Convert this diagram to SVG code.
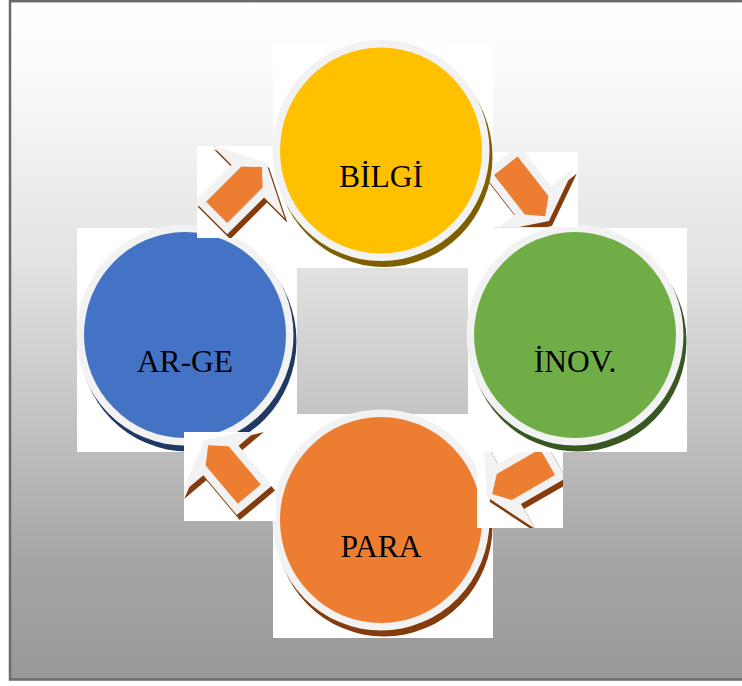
<svg xmlns="http://www.w3.org/2000/svg" width="742" height="686" viewBox="0 0 742 686">
<defs>
<linearGradient id="bg" x1="0" y1="0" x2="0" y2="1">
<stop offset="0" stop-color="#ffffff"/>
<stop offset="0.1" stop-color="#fbfbfb"/>
<stop offset="0.39" stop-color="#e2e2e2"/>
<stop offset="0.61" stop-color="#c4c4c4"/>
<stop offset="0.82" stop-color="#a6a6a6"/>
<stop offset="1" stop-color="#989898"/>
</linearGradient>
<style>
.lbl{font-family:"Liberation Serif","Times New Roman",serif;font-size:31.5px;fill:#000;text-anchor:middle}
.back{fill:#ffffff}
.ring{fill:#f2f2f2}
.ash{fill:#843c0c}
.agr{fill:#f2f2f2}
.aor{fill:#ed7d31}
</style>
<path id="arrowSh" class="ash" d="M0,-23 L52,-23 L52,-52 L78,0 L52,52 L52,23 L0,23 Z"/>
<g id="arrowBody">
<path class="agr" d="M0,-23 L52,-23 L52,-52 L78,0 L52,52 L52,23 L0,23 Z"/>
<path class="aor" d="M8,-15 L58,-15 L72,0 L58,15 L8,15 Z"/>
</g>
<clipPath id="cA" clipPathUnits="userSpaceOnUse"><rect x="197" y="146" width="90" height="92"/></clipPath>
<clipPath id="cB" clipPathUnits="userSpaceOnUse"><rect x="486" y="152" width="92" height="75"/></clipPath>
<clipPath id="cC" clipPathUnits="userSpaceOnUse"><rect x="477" y="452" width="86" height="76"/></clipPath>
<clipPath id="cD" clipPathUnits="userSpaceOnUse"><rect x="184" y="432" width="92" height="89"/></clipPath>
</defs>

<rect x="0" y="0" width="742" height="686" fill="#ffffff"/>
<rect id="frame" x="10" y="1.2" width="740" height="678.3" fill="url(#bg)" stroke="#6b6b6b" stroke-width="2.5"/>

<g id="backdrops">
<rect class="back" x="273" y="43" width="220" height="225"/>
<rect class="back" x="77" y="228" width="220" height="224"/>
<rect class="back" x="468" y="228" width="219" height="224"/>
<rect class="back" x="273" y="414" width="220" height="224"/>
</g>

<g id="node-arge">
<ellipse cx="188" cy="341" rx="108.5" ry="110.5" fill="#1f3864"/>
<ellipse class="ring" cx="185" cy="335" rx="108.5" ry="110.5"/>
<ellipse cx="185" cy="335" rx="101" ry="103" fill="#4472c4"/>
<text class="lbl" x="185" y="372">AR-GE</text>
</g>

<g id="node-inov">
<ellipse cx="578" cy="341" rx="108.5" ry="110.5" fill="#385723"/>
<ellipse class="ring" cx="575" cy="335" rx="108.5" ry="110.5"/>
<ellipse cx="575" cy="335" rx="101" ry="103" fill="#70ad47"/>
<text class="lbl" x="575" y="372">İNOV.</text>
</g>

<g id="node-para">
<ellipse cx="384" cy="526" rx="108.5" ry="110.5" fill="#843c0c"/>
<ellipse class="ring" cx="381" cy="520" rx="108.5" ry="110.5"/>
<ellipse cx="381" cy="520" rx="101" ry="103" fill="#ed7d31"/>
<text class="lbl" x="381" y="557">PARA</text>
</g>

<g id="connectors">
<g id="arrow-arge-bilgi" clip-path="url(#cA)">
<rect class="back" x="197" y="146" width="90" height="92"/>
<use href="#arrowSh" transform="translate(214,223) rotate(-45)"/>
<use href="#arrowBody" transform="translate(211,218) rotate(-45)"/>
</g>
<g id="arrow-bilgi-inov" clip-path="url(#cB)">
<rect class="back" x="486" y="152" width="92" height="75"/>
<use href="#arrowSh" transform="translate(503.9,164.5) rotate(52)"/>
<use href="#arrowBody" transform="translate(500.9,159.5) rotate(52)"/>
</g>
<g id="arrow-inov-para" clip-path="url(#cC)">
<rect class="back" x="477" y="452" width="86" height="76"/>
<use href="#arrowSh" transform="translate(557.5,463) rotate(150)"/>
<use href="#arrowBody" transform="translate(554.5,458) rotate(150)"/>
</g>
<g id="arrow-para-arge" clip-path="url(#cD)">
<rect class="back" x="184" y="432" width="92" height="89"/>
<use href="#arrowSh" transform="translate(257.4,505.3) rotate(-130)"/>
<use href="#arrowBody" transform="translate(254.4,500.3) rotate(-130)"/>
</g>
</g>

<g id="node-bilgi">
<ellipse cx="384" cy="156.5" rx="108.5" ry="110.5" fill="#7f6000"/>
<ellipse class="ring" cx="381" cy="150.5" rx="108.5" ry="110.5"/>
<ellipse cx="381" cy="150.5" rx="101" ry="103" fill="#ffc000"/>
<text class="lbl" x="381" y="187">BİLGİ</text>
</g>
</svg>
